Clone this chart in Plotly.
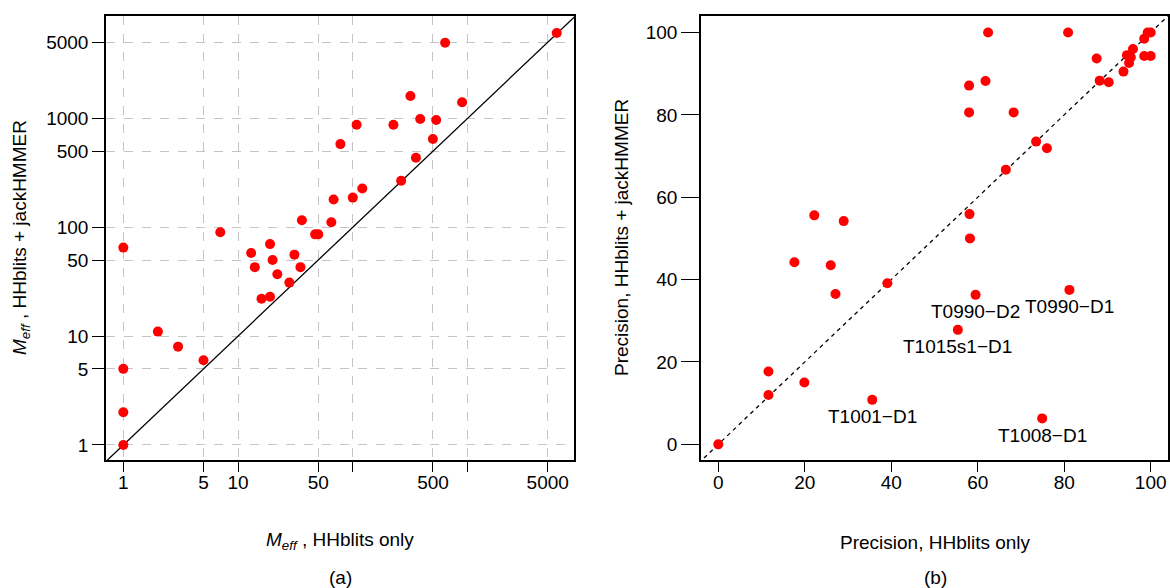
import plotly.graph_objects as go

# ---- Panel (a) data: M_eff ----
meff_hhblits = [1, 7, 13, 19, 20, 14, 31, 35, 22, 28, 16, 19, 47, 50, 65, 68, 78, 100, 108, 121,
                226, 264, 318, 355, 387, 499, 533, 638, 897, 5990, 2, 3, 5, 1, 1, 1, 36]
meff_combined = [65, 90, 58, 70, 50, 43, 56, 43, 37, 31, 22, 23, 86, 86, 111, 180, 580, 187, 873, 227,
                 873, 267, 1603, 435, 986, 645, 965, 4945, 1403, 6070, 11, 8, 6, 5, 2, 1, 116]

# ---- Panel (b) data: precision ----
prec_hhblits = [0, 11.6, 11.6, 19.9, 17.6, 22.2, 26.0, 27.1, 29.0, 35.6, 39.1, 55.4, 58.0, 58.0, 58.1,
                58.2, 59.5, 61.8, 62.4, 66.5, 68.3, 73.5, 74.9, 76.0, 80.9, 81.2, 87.5, 88.2, 90.3,
                93.7, 94.5, 95.0, 95.4, 95.9, 98.5, 98.5, 100, 99.3, 100]
prec_combined = [0, 17.7, 12.0, 15.0, 44.2, 55.6, 43.5, 36.5, 54.2, 10.8, 39.1, 27.8, 87.1, 80.6, 55.9,
                 50.0, 36.3, 88.2, 100, 66.7, 80.6, 73.5, 6.3, 71.9, 100, 37.5, 93.7, 88.3, 87.9,
                 90.5, 94.5, 92.6, 94.0, 96.0, 98.5, 94.3, 94.3, 100, 100]

label_names = ["T1001\u2212D1", "T1015s1\u2212D1", "T0990\u2212D2", "T1008\u2212D1", "T0990\u2212D1"]
label_x = [35.6, 55.4, 59.5, 74.9, 81.2]
label_y = [10.8, 27.8, 36.3, 6.3, 37.5]

log_ticks = [1, 5, 10, 50, 100, 500, 1000, 5000]
log_xtext = ["1", "5", "10", "50", " ", "500", " ", "5000"]
log_ytext = ["1", "5", "10", "50", "100", "500", "1000", "5000"]
lin_ticks = [0, 20, 40, 60, 80, 100]

FONT = "Liberation Sans, Arial, Helvetica, sans-serif"
FS = 19
RED = "#ff0000"

fig = go.Figure()

# diagonal y = x (panel a)
fig.add_trace(go.Scatter(x=[0.5, 20000], y=[0.5, 20000], mode="lines",
                         line=dict(color="black", width=1.3), xaxis="x", yaxis="y",
                         hoverinfo="skip", showlegend=False))
fig.add_trace(go.Scatter(x=meff_hhblits, y=meff_combined, mode="markers",
                         marker=dict(color=RED, size=10, line=dict(width=0)),
                         xaxis="x", yaxis="y", showlegend=False))

# diagonal y = x (panel b)
fig.add_trace(go.Scatter(x=[-10, 110], y=[-10, 110], mode="lines",
                         line=dict(color="black", width=1.3, dash="4px,4px"),
                         xaxis="x2", yaxis="y2", hoverinfo="skip", showlegend=False))
fig.add_trace(go.Scatter(x=prec_hhblits, y=prec_combined, mode="markers",
                         marker=dict(color=RED, size=10, line=dict(width=0)),
                         xaxis="x2", yaxis="y2", showlegend=False))

axis_common = dict(showline=True, mirror=True, linecolor="black", linewidth=1.5,
                   ticks="outside", tickcolor="black", tickwidth=1,
                   tickfont=dict(family=FONT, size=FS, color="black"), zeroline=False)

fig.update_layout(
    width=1170, height=588,
    margin=dict(l=0, r=0, t=0, b=0),
    paper_bgcolor="white", plot_bgcolor="white",
    font=dict(family=FONT, size=FS, color="black"),
    xaxis=dict(domain=[106 / 1170, 574 / 1170], type="log", range=[-0.151, 3.928],
               tickvals=log_ticks, ticktext=log_xtext, showgrid=True, gridcolor="#c4c4c4",
               griddash="dash", gridwidth=1, ticklen=10, ticklabelstandoff=-6,
               anchor="y", **axis_common),
    yaxis=dict(domain=[1 - 460 / 588, 1 - 16 / 588], type="log", range=[-0.138, 3.94],
               tickvals=log_ticks, ticktext=log_ytext, showgrid=True, gridcolor="#c4c4c4",
               griddash="dash", gridwidth=1, ticklen=12, anchor="x", **axis_common),
    xaxis2=dict(domain=[701 / 1170, 1168 / 1170], range=[-4, 104], tickvals=lin_ticks,
                showgrid=False, ticklen=10, ticklabelstandoff=-6, anchor="y2", **axis_common),
    yaxis2=dict(domain=[1 - 460 / 588, 1 - 16 / 588], range=[-3.8, 104], tickvals=lin_ticks,
                showgrid=False, ticklen=18, anchor="x2", **axis_common),
)

# point labels (panel b)
for name, lx, ly in zip(label_names, label_x, label_y):
    fig.add_annotation(x=lx, y=ly, xref="x2", yref="y2", text=name, showarrow=False,
                       yshift=-17, xanchor="center", yanchor="middle",
                       font=dict(family=FONT, size=FS, color="black"))

# axis titles and panel captions
def paper_text(px, py, text, angle=0):
    fig.add_annotation(x=px / 1170, y=1 - py / 588, xref="paper", yref="paper",
                       text=text, showarrow=False, textangle=angle,
                       xanchor="center", yanchor="middle",
                       font=dict(family=FONT, size=FS, color="black"))

paper_text(340, 541, "<i>M</i><sub><i>eff</i></sub> , HHblits only")
paper_text(935, 542, "Precision, HHblits only")
paper_text(21, 238, "<i>M</i><sub><i>eff</i></sub> , HHblits + jackHMMER", -90)
paper_text(621, 238, "Precision, HHblits + jackHMMER", -90)
paper_text(340, 577, "(a)")
paper_text(935, 577, "(b)")

fig.write_html("out.html", config={"displayModeBar": False},
               post_script="document.body.style.margin='0px';document.body.style.overflow='hidden';")
